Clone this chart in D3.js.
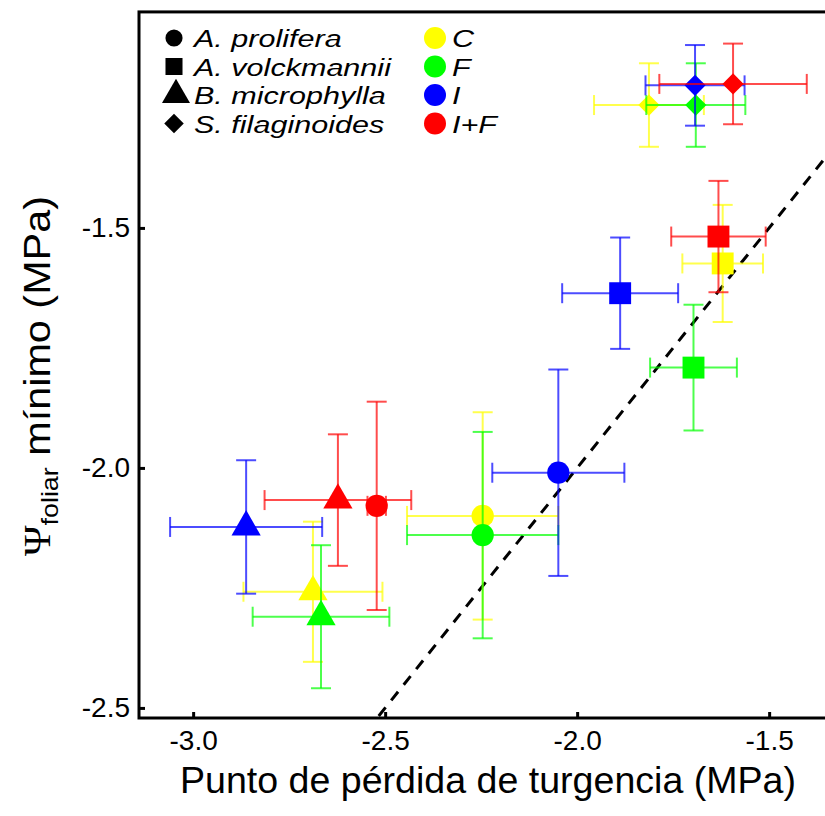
<!DOCTYPE html>
<html>
<head>
<meta charset="utf-8">
<script src="https://cdn.jsdelivr.net/npm/d3@7"></script>
<style>
  html, body { margin: 0; padding: 0; background: #fff; }
  svg { display: block; }
</style>
</head>
<body>
<svg id="chart" width="825" height="816"></svg>
<script>
// ---------------- DATA ----------------
const species = ["A. prolifera", "A. volckmannii", "B. microphylla", "S. filaginoides"];
const treatments = ["C", "F", "I", "I+F"];
const treatmentColors = ["#ffff00", "#00ff00", "#0000ff", "#ff0000"];

// Punto de pérdida de turgencia (MPa): rows = species, cols = treatments (C, F, I, I+F)
const turgorLoss = [
  [-2.246, -2.246, -2.049, -2.522],
  [-1.621, -1.697, -1.888, -1.632],
  [-2.688, -2.667, -2.862, -2.623],
  [-1.813, -1.691, -1.693, -1.594]
];
const turgorLossErr = [
  [0.197, 0.197, 0.172, 0.024],
  [0.105, 0.113, 0.151, 0.123],
  [0.181, 0.178, 0.198, 0.191],
  [0.143, 0.129, 0.129, 0.192]
];
// Ψ foliar mínimo (MPa)
const minLeafPsi = [
  [-2.100, -2.140, -2.010, -2.079],
  [-1.574, -1.791, -1.636, -1.518],
  [-2.258, -2.310, -2.123, -2.067],
  [-1.244, -1.244, -1.203, -1.200]
];
const minLeafPsiErr = [
  [0.216, 0.215, 0.215, 0.217],
  [0.122, 0.131, 0.116, 0.116],
  [0.146, 0.149, 0.139, 0.137],
  [0.087, 0.087, 0.084, 0.084]
];

const xTicks = [-3.0, -2.5, -2.0, -1.5];
const yTicks = [-2.5, -2.0, -1.5];
const xDomain = [-3.141, -1.25];
const yDomain = [-2.521, -1.05];
const oneToOne = [-3.2, -1.0];

// ---------------- LAYOUT ----------------
const svg = d3.select("#chart");
const mLeft = 139, mBottom = 718;
const pxPerX = 384, pxPerY = 480;
const x = d3.scaleLinear().domain(xDomain).range([mLeft, mLeft + (xDomain[1] - xDomain[0]) * pxPerX]);
const y = d3.scaleLinear().domain(yDomain).range([mBottom, mBottom - (yDomain[1] - yDomain[0]) * pxPerY]);

const FONT = "'Liberation Sans', Arial, Helvetica, sans-serif";

svg.append("defs").append("clipPath").attr("id", "plotclip")
  .append("rect")
  .attr("x", x.range()[0]).attr("y", y.range()[1])
  .attr("width", x.range()[1] - x.range()[0])
  .attr("height", y.range()[0] - y.range()[1]);

const plot = svg.append("g").attr("clip-path", "url(#plotclip)");

// 1:1 dashed line
plot.append("line")
  .attr("x1", x(oneToOne[0])).attr("y1", y(oneToOne[0]))
  .attr("x2", x(oneToOne[1])).attr("y2", y(oneToOne[1]))
  .attr("stroke", "#000").attr("stroke-width", 3)
  .attr("stroke-dasharray", "11,9");

// symbols
const symbolTypes = [d3.symbolCircle, d3.symbolSquare, d3.symbolTriangle, d3.symbolSquare];
const symbolSizes = [390, 480, 370, 225];
const symbolRot = [0, 0, 0, 45];

const cap = 10;
treatments.forEach((t, ti) => {
  species.forEach((s, si) => {
    const cx = x(turgorLoss[si][ti]);
    const cy = y(minLeafPsi[si][ti]);
    const xl = x(turgorLoss[si][ti] - turgorLossErr[si][ti]);
    const xr = x(turgorLoss[si][ti] + turgorLossErr[si][ti]);
    const ytop = y(minLeafPsi[si][ti] + minLeafPsiErr[si][ti]);
    const ybot = y(minLeafPsi[si][ti] - minLeafPsiErr[si][ti]);
    const g = plot.append("g");
    const eb = g.append("g")
      .attr("stroke", treatmentColors[ti])
      .attr("stroke-width", 2)
      .attr("stroke-opacity", 0.7)
      .attr("fill", "none");
    eb.append("line").attr("x1", xl).attr("x2", xr).attr("y1", cy).attr("y2", cy);
    eb.append("line").attr("x1", xl).attr("x2", xl).attr("y1", cy - cap).attr("y2", cy + cap);
    eb.append("line").attr("x1", xr).attr("x2", xr).attr("y1", cy - cap).attr("y2", cy + cap);
    eb.append("line").attr("x1", cx).attr("x2", cx).attr("y1", ytop).attr("y2", ybot);
    eb.append("line").attr("x1", cx - cap).attr("x2", cx + cap).attr("y1", ytop).attr("y2", ytop);
    eb.append("line").attr("x1", cx - cap).attr("x2", cx + cap).attr("y1", ybot).attr("y2", ybot);
    g.append("path")
      .attr("d", d3.symbol().type(symbolTypes[si]).size(symbolSizes[si])())
      .attr("transform", `translate(${cx},${cy}) rotate(${symbolRot[si]})`)
      .attr("fill", treatmentColors[ti]);
  });
});

// ---------------- AXES ----------------
const xAxis = d3.axisBottom(x).tickValues(xTicks).tickFormat(d3.format(".1f"))
  .tickSizeInner(-6).tickSizeOuter(0).tickPadding(12);
const yAxis = d3.axisLeft(y).tickValues(yTicks).tickFormat(d3.format(".1f"))
  .tickSizeInner(-6).tickSizeOuter(0).tickPadding(9);

const gx = svg.append("g").attr("transform", `translate(0,${mBottom})`).call(xAxis);
const gy = svg.append("g").attr("transform", `translate(${mLeft},0)`).call(yAxis);
[gx, gy].forEach(g => {
  g.select(".domain").remove();
  g.selectAll(".tick line").attr("stroke", "#000").attr("stroke-width", 3);
  g.selectAll(".tick text").attr("font-family", FONT).attr("font-size", 28).attr("fill", "#000")
    .text(d => d3.format(".1f")(d).replace("−", "-"));
});

// frame
svg.append("rect")
  .attr("x", x.range()[0]).attr("y", y.range()[1])
  .attr("width", x.range()[1] - x.range()[0])
  .attr("height", y.range()[0] - y.range()[1])
  .attr("fill", "none").attr("stroke", "#000").attr("stroke-width", 3);

// axis titles
svg.append("text")
  .attr("x", 180).attr("y", 793)
  .attr("text-anchor", "start")
  .attr("textLength", 616).attr("lengthAdjust", "spacingAndGlyphs")
  .attr("font-family", FONT).attr("font-size", 36).attr("fill", "#000")
  .text("Punto de pérdida de turgencia (MPa)");

const yTitle = svg.append("text")
  .attr("transform", "translate(50,556) rotate(-90)")
  .attr("text-anchor", "start")
  .attr("textLength", 360).attr("lengthAdjust", "spacingAndGlyphs")
  .attr("font-family", FONT).attr("font-size", 37).attr("fill", "#000");
yTitle.append("tspan").attr("font-family", "'Liberation Serif', 'DejaVu Serif', serif").text("Ψ");
yTitle.append("tspan").attr("font-size", 24).attr("dy", 8).text("foliar");
yTitle.append("tspan").attr("dy", -8).text(" mínimo (MPa)");

// ---------------- LEGENDS ----------------
const legendRows = [38, 66.5, 95, 123.5];
const legSymSizes = [230, 290, 340, 190];
const legStretch = 1.3;
const leg1 = svg.append("g");
species.forEach((s, i) => {
  leg1.append("path")
    .attr("d", d3.symbol().type(symbolTypes[i]).size(legSymSizes[i])())
    .attr("transform", `translate(${i === 2 ? 176 : 174},${legendRows[i]}) rotate(${symbolRot[i]})`)
    .attr("fill", "#000");
  leg1.append("text")
    .attr("transform", `translate(194,${legendRows[i] + 9}) scale(${legStretch},1)`)
    .attr("font-family", FONT).attr("font-style", "italic").attr("font-size", 23.5).attr("fill", "#000")
    .text(s);
});
const leg2 = svg.append("g");
treatments.forEach((t, i) => {
  leg2.append("circle").attr("cx", 435).attr("cy", legendRows[i]).attr("r", 11)
    .attr("fill", treatmentColors[i]);
  leg2.append("text")
    .attr("transform", `translate(452,${legendRows[i] + 9}) scale(${legStretch},1)`)
    .attr("font-family", FONT).attr("font-style", "italic").attr("font-size", 23.5).attr("fill", "#000")
    .text(t);
});
</script>
</body>
</html>
